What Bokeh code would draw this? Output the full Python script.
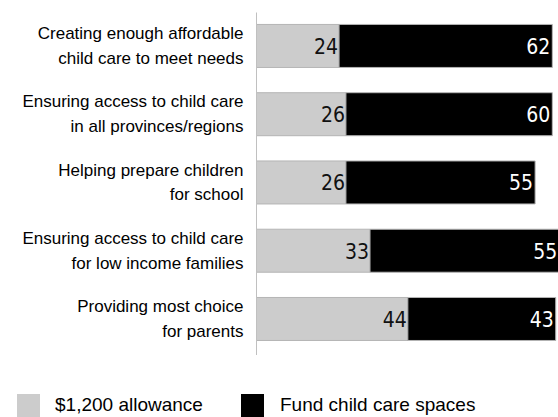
from bokeh.plotting import figure
from bokeh.layouts import column
from bokeh.models import FixedTicker, Range1d, ColumnDataSource, Div
from bokeh.core.properties import value
from bokeh.embed import file_html
from bokeh.resources import INLINE

categories = [
    "Creating enough affordable\nchild care to meet needs",
    "Ensuring access to child care\nin all provinces/regions",
    "Helping prepare children\nfor school",
    "Ensuring access to child care\nfor low income families",
    "Providing most choice\nfor parents",
]
allowance = [24, 26, 26, 33, 44]
spaces = [62, 60, 55, 55, 43]
series_names = ["$1,200 allowance", "Fund child care spaces"]
colors = ["#cccccc", "#000000"]

n = len(categories)
ypos = list(range(n, 0, -1))
totals = [a + s for a, s in zip(allowance, spaces)]

src = ColumnDataSource(dict(
    y=ypos, allowance=allowance, spaces=spaces, total=totals,
    a_lbl=[str(v) for v in allowance], s_lbl=[str(v) for v in spaces],
))

p = figure(width=558, height=355, output_backend="svg", toolbar_location=None,
           x_range=Range1d(0, 87.8), y_range=Range1d(0.465, 5.49),
           min_border_left=256, min_border_right=0, min_border_top=12,
           min_border_bottom=0)
p.outline_line_color = None
p.xgrid.visible = False
p.ygrid.visible = False
p.xaxis.visible = False

BAR_H = 0.63
p.hbar(y="y", left=0, right="allowance", height=BAR_H, source=src,
       fill_color=colors[0], line_color="#b4b4b4", line_width=1)
p.hbar(y="y", left="allowance", right="total", height=BAR_H, source=src,
       fill_color=colors[1], line_color="#b4b4b4", line_width=1)

num_font = value("DejaVu Sans Condensed")
p.text(x="allowance", y="y", text="a_lbl", source=src, text_align="right",
       text_baseline="middle", x_offset=-1, text_font=num_font,
       text_font_size="21px", text_color="#111111")
p.text(x="total", y="y", text="s_lbl", source=src, text_align="right",
       text_baseline="middle", x_offset=-2, text_font=num_font,
       text_font_size="21px", text_color="#ffffff")

ax = p.yaxis[0]
ax.ticker = FixedTicker(ticks=ypos)
ax.major_label_overrides = {y: c for y, c in zip(ypos, categories)}
ax.major_tick_line_color = None
ax.minor_tick_line_color = None
ax.major_tick_out = 0
ax.major_tick_in = 0
ax.major_label_standoff = 13
ax.axis_line_color = "#c0c0c0"
ax.major_label_text_font = "Liberation Sans"
ax.major_label_text_font_size = "17px"
ax.major_label_text_color = "#000000"
ax.major_label_text_line_height = 1.3

# legend strip below the chart
swatch_left = [17, 241]
text_left = [55, 280]
parts = []
for name, col, sl, tl in zip(series_names, colors, swatch_left, text_left):
    parts.append(
        f'<div style="position:absolute;left:{sl}px;top:39px;width:23px;height:23px;'
        f'background:{col};"></div>'
        f'<div style="position:absolute;left:{tl}px;top:38px;height:23px;line-height:23px;'
        f'font-family:\'Liberation Sans\';font-size:19px;color:#000;white-space:nowrap;">'
        f'{name}</div>'
    )
legend_html = ('<div style="position:relative;width:558px;height:62px;">'
               + "".join(parts) + '</div>')
legend = Div(text=legend_html, width=558, height=62, margin=0)

layout = column(p, legend, spacing=0)
open("out.html", "w").write(file_html(layout, INLINE))
